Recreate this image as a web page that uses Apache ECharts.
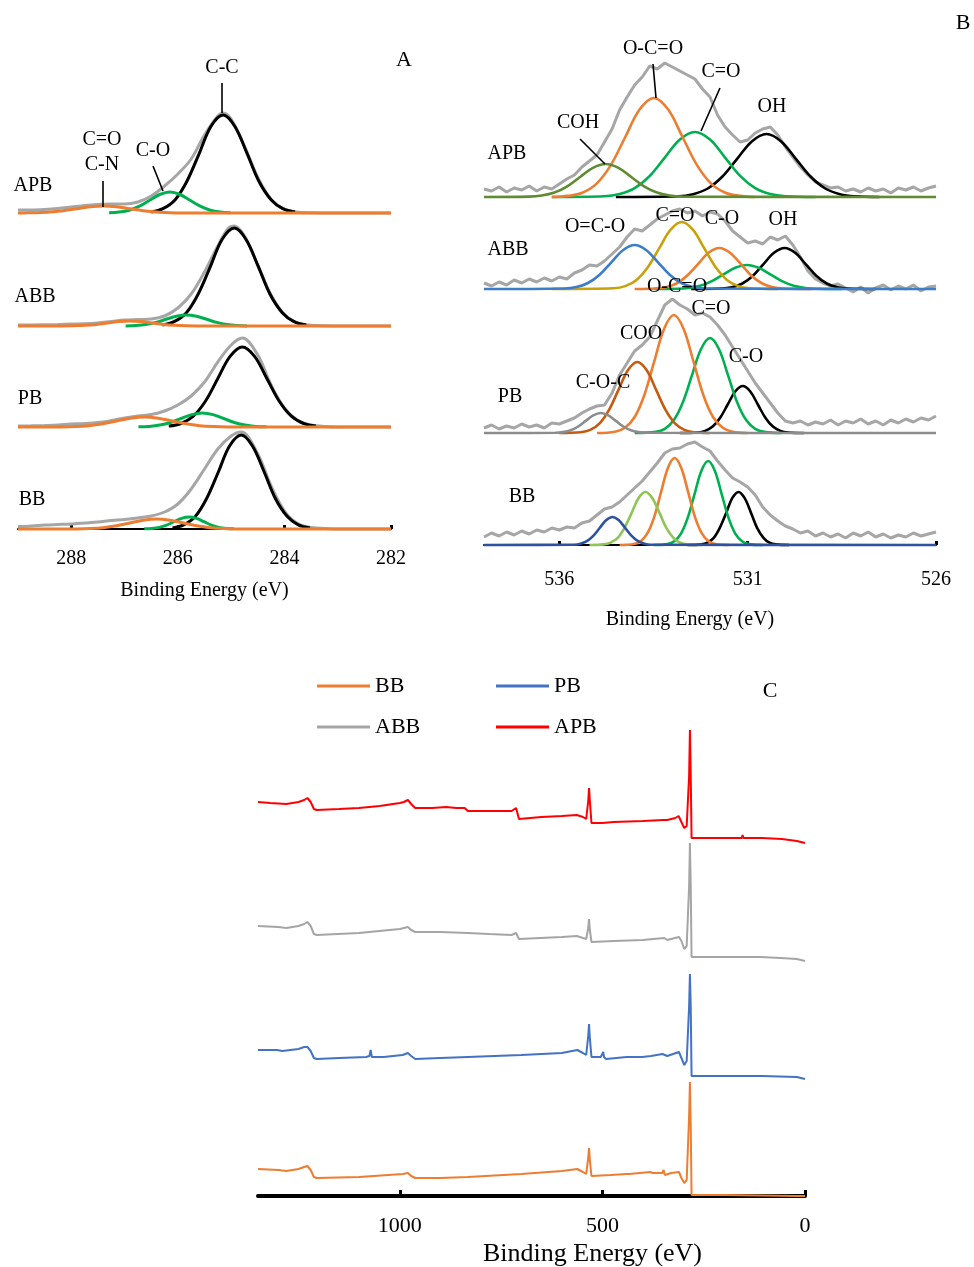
<!DOCTYPE html>
<html>
<head>
<meta charset="utf-8">
<script src="https://cdn.jsdelivr.net/npm/echarts@6/dist/echarts.min.js"></script>
<style>
  html, body { margin: 0; padding: 0; background: #fff; }
  #chart { width: 974px; height: 1267px; }
</style>
</head>
<body>
<div id="chart"></div>
<script>
// ---- panel A : C1s, [binding energy, height above baseline] ----
var aApbGray = [[289,3],[288.75,3],[288.5,3.5],[288.25,4.5],[288,6],[287.75,7.5],[287.5,8.5],[287.25,9],[287,9],[286.75,11],[286.5,17],[286.25,27],[286,39],[285.75,54],[285.5,78],[285.25,97],[285.15,100],[285,94],[284.75,67],[284.5,35.5],[284.25,13.5],[284,3.8],[283.75,0.8],[283.5,0.2],[283,0],[282,0]];
var aApbCC = [[286.5,1.1],[286.28,4.3],[286.05,13.3],[285.83,31.8],[285.6,59.4],[285.38,86.5],[285.15,98],[284.93,86.5],[284.7,59.4],[284.48,31.8],[284.25,13.3],[284.03,4.3],[283.8,1.1]];
var aApbCO = [[287.29,0.2],[287.1,0.9],[286.91,2.8],[286.72,6.8],[286.53,12.7],[286.34,18.5],[286.15,21],[285.96,18.5],[285.77,12.7],[285.58,6.8],[285.39,2.8],[285.2,0.9],[285.01,0.2]];
var aApbCN = [[289,0],[288.9,0.1],[288.65,0.3],[288.4,0.9],[288.15,2.3],[287.9,4.2],[287.65,6.2],[287.4,7],[287.15,6.2],[286.9,4.2],[286.65,2.3],[286.4,0.9],[286.15,0.3],[285.9,0.1],[282,0]];

var aAbbGray = [[289,1],[288.75,1],[288.5,1.2],[288.25,1.5],[288,2],[287.75,2.2],[287.5,3],[287.25,4.5],[287,6],[286.75,6.5],[286.5,7],[286.25,10],[286,18],[285.75,32],[285.5,54],[285.25,80],[285.05,98],[284.94,100],[284.75,90],[284.5,61],[284.25,31],[284,11.5],[283.75,3.2],[283.5,0.8],[283.25,0.2],[283,0],[282,0]];
var aAbbCC = [[286.29,1.1],[286.07,4.3],[285.84,13.3],[285.62,31.8],[285.39,59.4],[285.17,86.5],[284.94,98],[284.72,86.5],[284.49,59.4],[284.27,31.8],[284.04,13.3],[283.82,4.3],[283.59,1.1]];
var aAbbCO = [[286.98,0.12],[286.79,0.5],[286.6,1.5],[286.41,3.6],[286.22,6.7],[286.03,9.7],[285.84,11],[285.65,9.7],[285.46,6.7],[285.27,3.6],[285.08,1.5],[284.89,0.5],[284.7,0.12]];
var aAbbCN = [[289,0],[288.16,0.06],[287.95,0.22],[287.74,0.68],[287.53,1.6],[287.32,3],[287.11,4.4],[286.9,5],[286.69,4.4],[286.48,3],[286.27,1.6],[286.06,0.68],[285.85,0.22],[285.64,0.06],[282,0]];

var aPbGray = [[289,1],[288.75,1.2],[288.5,1.5],[288.25,2],[288,3],[287.75,3.5],[287.5,4.5],[287.25,6.5],[287,9],[286.75,11],[286.5,12.5],[286.25,16],[286,22],[285.75,31],[285.5,45],[285.25,65],[285,82],[284.79,89],[284.5,72],[284.25,42],[284,19],[283.75,6.5],[283.5,2],[283.25,0.5],[283,0],[282,0]];
var aPbCC = [[286.17,0.9],[285.94,3.5],[285.71,10.8],[285.48,26],[285.25,48.5],[285.02,70.6],[284.79,80],[284.56,70.6],[284.33,48.5],[284.1,26],[283.87,10.8],[283.64,3.5],[283.41,0.9]];
var aPbCO = [[286.74,0.16],[286.54,0.6],[286.34,1.9],[286.14,4.5],[285.94,8.5],[285.74,12.4],[285.54,14],[285.34,12.4],[285.14,8.5],[284.94,4.5],[284.74,1.9],[284.54,0.6],[284.34,0.16]];
var aPbCN = [[289,0],[288.19,0.11],[287.93,0.44],[287.67,1.35],[287.41,3.25],[287.15,6.07],[286.89,8.8],[286.63,10],[286.37,8.8],[286.11,6.07],[285.85,3.25],[285.59,1.35],[285.33,0.44],[285.07,0.11],[282,0]];

var aBbGray = [[289,2.5],[288.75,3],[288.5,4],[288.25,4.5],[288,5],[287.75,6],[287.5,7],[287.25,8.5],[287,9.5],[286.75,11],[286.5,13],[286.25,17],[286,25],[285.75,40],[285.5,60],[285.25,80],[285,93],[284.81,97],[284.5,75],[284.25,43],[284,18],[283.75,5.5],[283.5,1.5],[283.25,0.5],[283,0],[282,0]];
var aBbCC = [[286.1,1],[285.89,4.1],[285.67,12.7],[285.46,30.5],[285.24,57],[285.03,83],[284.81,94],[284.6,83],[284.38,57],[284.17,30.5],[283.95,12.7],[283.74,4.1],[283.52,1]];
var aBbCO = [[286.63,0.13],[286.49,0.53],[286.35,1.6],[286.21,3.9],[286.07,7.3],[285.93,10.6],[285.79,12],[285.65,10.6],[285.51,7.3],[285.37,3.9],[285.23,1.6],[285.09,0.53],[284.95,0.13]];
var aBbCN = [[289,0],[287.9,0.11],[287.65,0.44],[287.4,1.35],[287.15,3.25],[286.9,6.07],[286.65,8.8],[286.4,10],[286.15,8.8],[285.9,6.07],[285.65,3.25],[285.4,1.35],[285.15,0.44],[284.9,0.11],[282,0]];

var aTicks = [288, 286, 284, 282];

// ---- panel B : O1s ----
var bEnergy = [538,537.8,537.6,537.4,537.2,537,536.8,536.6,536.4,536.2,536,535.8,535.6,535.4,535.2,535,534.8,534.6,534.4,534.2,534,533.8,533.6,533.4,533.2,533,532.8,532.6,532.4,532.2,532,531.8,531.6,531.4,531.2,531,530.8,530.6,530.4,530.2,530,529.8,529.6,529.4,529.2,529,528.8,528.6,528.4,528.2,528,527.8,527.6,527.4,527.2,527,526.8,526.6,526.4,526.2,526];
var bApbGray = [8,6,10,5,9,7,11,6,10,8, 13,18,22,30,36,42,55,68,87,100, 112,120,131,128,134,130,126,122,118,108, 100,82,70,62,55,57,64,68,70,62, 50,40,30,22,15,12,9,10,6,8, 5,9,6,8,4,9,7,10,6,9, 11];
var bAbbGray = [6,3,7,4,9,6,10,7,11,8, 12,10,16,19,24,23,28,35,42,52, 60,58,64,70,74,78,80,76,78,73, 77,75,68,58,52,46,48,45,52,49, 53,44,32,18,10,6,3,5,1,-3, 2,-4,1,4,-1,3,0,4,-2,2, 3];
var bPbGray = [5,8,4,7,5,9,6,8,5,10, 9,12,15,20,24,27,28,40,58,70, 82,88,96,112,128,134,128,124,118,120, 116,108,98,86,74,62,50,40,30,20, 12,10,12,8,11,9,13,8,12,10, 14,9,12,8,13,10,14,11,15,13, 17];
var bBbGray = [8,12,9,13,10,14,11,15,13,17, 15,18,17,22,24,30,36,38,43,50, 57,64,73,82,92,96,97,101,103,98, 94,84,75,67,63,58,50,38,30,24, 19,16,12,14,9,12,8,11,7,12, 9,13,8,11,7,10,8,12,9,11, 13];

var bApbCOH = [[538,0],[536.81,0.37],[536.47,1.45],[536.13,4.47],[535.79,10.7],[535.45,20],[535.11,29.1],[534.77,33],[534.43,29.1],[534.09,20],[533.75,10.7],[533.41,4.47],[533.07,1.45],[532.73,0.37],[526,0]];
var bApbOCO = [[536.2,0],[535.77,1.1],[535.39,4.3],[535.01,13.4],[534.63,32.1],[534.25,60],[533.87,87.4],[533.49,99],[533.11,87.4],[532.73,60],[532.35,32.1],[531.97,13.4],[531.59,4.3],[531.21,1.1],[530.8,0]];
var bApbCdO = [[536.2,0],[534.8,0.7],[534.4,2.9],[534,8.8],[533.6,21.1],[533.2,39.4],[532.8,57.4],[532.4,65],[532,57.4],[531.6,39.4],[531.2,21.1],[530.8,8.8],[530.4,2.9],[530,0.7],[529.2,0]];
var bApbOH = [[534.5,0],[532.84,0.7],[532.45,2.8],[532.06,8.5],[531.67,20.5],[531.28,38.2],[530.89,55.6],[530.5,63],[530.11,55.6],[529.72,38.2],[529.33,20.5],[528.94,8.5],[528.55,2.8],[528.16,0.7],[527.5,0]];

var bAbbOCO = [[538,0],[535.86,0.5],[535.55,1.9],[535.24,6],[534.93,14.3],[534.62,26.7],[534.31,38.8],[534,44],[533.69,38.8],[533.38,26.7],[533.07,14.3],[532.76,6],[532.45,1.9],[532.14,0.5],[526,0]];
var bAbbCdO = [[536.2,0],[534.55,0.7],[534.25,2.9],[533.95,9.1],[533.65,21.8],[533.35,40.6],[533.05,59.1],[532.75,67],[532.45,59.1],[532.15,40.6],[531.85,21.8],[531.55,9.1],[531.25,2.9],[530.95,0.7],[530.2,0]];
var bAbbCO = [[534,0],[533.46,0.5],[533.18,1.8],[532.89,5.5],[532.61,13.3],[532.32,24.9],[532.04,36.2],[531.75,41],[531.47,36.2],[531.18,24.9],[530.9,13.3],[530.61,5.5],[530.33,1.8],[530.04,0.5],[529.3,0]];
var bAbbX = [[533.5,0],[532.88,0.3],[532.57,1.05],[532.26,3.2],[531.95,7.8],[531.64,14.6],[531.33,21.2],[531.02,24],[530.71,21.2],[530.4,14.6],[530.09,7.8],[529.78,3.2],[529.47,1.05],[529.16,0.3],[528.5,0]];
var bAbbOH = [[532.5,0],[531.7,0.5],[531.42,1.8],[531.14,5.5],[530.86,13.3],[530.58,24.9],[530.3,36.2],[530.02,41],[529.74,36.2],[529.46,24.9],[529.18,13.3],[528.9,5.5],[528.62,1.8],[528.34,0.5],[527.6,0]];

var bPbCOC = [[538,0],[536.1,0.2],[535.9,0.9],[535.7,2.7],[535.5,6.5],[535.3,12.1],[535.1,17.6],[534.9,20],[534.7,17.6],[534.5,12.1],[534.3,6.5],[534.1,2.7],[533.9,0.9],[533.7,0.2],[526,0]];
var bPbCOO = [[536,0],[535.43,0.8],[535.18,3.1],[534.93,9.6],[534.68,23.1],[534.43,43.1],[534.18,62.7],[533.93,71],[533.68,62.7],[533.43,43.1],[533.18,23.1],[532.93,9.6],[532.68,3.1],[532.43,0.8],[532,0]];
var bPbOCO = [[535,0],[534.52,1.3],[534.26,5.2],[534,16],[533.74,38.3],[533.48,71.6],[533.22,104.1],[532.96,118],[532.7,104.1],[532.44,71.6],[532.18,38.3],[531.92,16],[531.66,5.2],[531.4,1.3],[531,0]];
var bPbCdO = [[534,0],[533.44,1.1],[533.2,4.2],[532.96,12.9],[532.72,30.8],[532.48,57.6],[532.24,83.8],[532,95],[531.76,83.8],[531.52,57.6],[531.28,30.8],[531.04,12.9],[530.8,4.2],[530.56,1.1],[530.1,0]];
var bPbCO = [[532.8,0],[532.33,0.5],[532.13,2.1],[531.93,6.4],[531.73,15.3],[531.53,28.5],[531.33,41.5],[531.13,47],[530.93,41.5],[530.73,28.5],[530.53,15.3],[530.33,6.4],[530.13,2.1],[529.93,0.5],[529.5,0]];

var bBbP1 = [[538,0],[535.61,0.3],[535.44,1.2],[535.27,3.8],[535.1,9.1],[534.93,17],[534.76,24.7],[534.59,28],[534.42,24.7],[534.25,17],[534.08,9.1],[533.91,3.8],[533.74,1.2],[533.57,0.3],[526,0]];
var bBbP2 = [[535.2,0],[534.82,0.6],[534.64,2.3],[534.45,7.2],[534.27,17.2],[534.08,32.1],[533.9,46.8],[533.71,53],[533.53,46.8],[533.34,32.1],[533.16,17.2],[532.97,7.2],[532.79,2.3],[532.6,0.6],[532.2,0]];
var bBbP3 = [[534.4,0],[534.02,1],[533.84,3.8],[533.66,11.8],[533.48,28.2],[533.3,52.8],[533.12,76.8],[532.94,87],[532.76,76.8],[532.58,52.8],[532.4,28.2],[532.22,11.8],[532.04,3.8],[531.86,1],[531.5,0]];
var bBbP4 = [[533.5,0],[533.13,0.9],[532.95,3.7],[532.77,11.4],[532.59,27.3],[532.41,50.9],[532.23,74.1],[532.05,84],[531.87,74.1],[531.69,50.9],[531.51,27.3],[531.33,11.4],[531.15,3.7],[530.97,0.9],[530.6,0]];
var bBbP5 = [[532.6,0],[532.23,0.6],[532.07,2.3],[531.9,7.2],[531.74,17.2],[531.57,32.1],[531.41,46.8],[531.24,53],[531.08,46.8],[530.91,32.1],[530.75,17.2],[530.58,7.2],[530.42,2.3],[530.25,0.6],[529.9,0]];

var bTicks = [536, 531, 526];

// ---- panel C : survey spectra (stacked) ----
var cAPB = [[1350,394],[1320,393],[1280,392],[1250,394],[1236,396],[1228,398],[1220,394],[1212,387],[1205,386],[1150,387],[1101,388],[1050,390],[1000,393],[990,394],[980,396],[972,392],[962,388],[920,388],[886,389],[860,388],[840,388],[832,385],[780,385],[724,385],[713,388],[709,387],[706,377],[650,379],[600,380],[563,381],[548,379],[540,377],[535,395],[533,408],[531,395],[527,373],[500,373],[472,374],[400,375],[350,376],[346,378],[340,376],[320,378],[312,380],[305,374],[298,368],[292,370],[286,420],[284,466],[282,420],[280,358],[250,358],[200,358],[156,358],[154,361],[152,358],[106,358],[104,360],[102,358],[57,357],[55,359],[53,357],[20,355],[0,353]];
var cABB = [[1350,270],[1300,269],[1280,268],[1250,270],[1236,272],[1228,274],[1220,270],[1212,262],[1205,261],[1101,263],[1000,267],[990,268],[980,269],[972,266],[962,264],[900,264],[832,263],[780,262],[724,261],[713,263],[709,262],[706,257],[600,259],[563,260],[548,258],[540,257],[535,268],[533,277],[531,266],[527,254],[472,255],[400,256],[347,258],[340,256],[311,259],[305,255],[298,247],[292,250],[286,310],[284,353],[282,310],[280,239],[200,239],[111,239],[108,240],[60,238],[20,237],[0,235]];
var cPB = [[1350,146],[1310,146],[1307,148],[1303,146],[1290,145],[1250,147],[1236,149],[1228,149],[1220,145],[1212,138],[1205,137],[1150,138],[1083,139],[1075,140],[1072,146],[1069,139],[1040,139],[993,141],[980,143],[972,140],[962,137],[900,138],[832,139],[700,141],[600,143],[562,146],[548,143],[540,141],[535,160],[533,172],[531,158],[527,139],[504,139],[500,140],[498,144],[496,139],[491,137],[440,139],[402,139],[380,140],[352,142],[340,140],[311,144],[305,138],[298,131],[292,135],[286,190],[284,222],[282,190],[280,120],[206,120],[204,122],[202,120],[156,120],[154,122],[152,120],[106,120],[104,122],[102,120],[20,119],[0,117]];
var cBB = [[1350,27],[1300,26],[1280,25],[1250,27],[1236,29],[1228,30],[1220,26],[1212,19],[1205,18],[1100,19],[993,22],[980,23],[972,20],[962,18],[900,18],[832,19],[700,22],[600,25],[562,27],[548,24],[540,22],[535,38],[533,48],[531,36],[527,20],[480,21],[440,22],[437,23],[434,22],[382,24],[379,25],[376,23],[352,23],[349,26],[346,21],[330,23],[311,24],[305,18],[298,13],[292,16],[286,80],[284,114],[282,70],[280,1],[200,1],[100,0.5],[20,0],[0,0]];
var cTicks = [1000, 500, 0];

var FONT = "'Liberation Serif','Times New Roman',serif";

function pair(xs, ys) {
  return xs.map(function (x, i) { return [x, ys[i]]; });
}

function curve(data, color, gi, width, z, smooth) {
  return {
    type: 'line', data: data, xAxisIndex: gi, yAxisIndex: gi,
    symbol: 'none', smooth: smooth, silent: true, z: z,
    lineStyle: { color: color, width: width }, itemStyle: { color: color }
  };
}

function grid(left, width, top, height) {
  return { left: left, width: width, top: top, height: height, outerBoundsMode: 'none', containLabel: false };
}

function hidX(gi, min, max) {
  return { gridIndex: gi, type: 'value', min: min, max: max, inverse: true, show: false };
}
function hidY(gi, min, max) {
  return { gridIndex: gi, type: 'value', min: min, max: max, show: false };
}
function showX(gi, min, max, ticks, fs, lw, margin, nameGap, namePad, nameFs, tickLen) {
  return {
    gridIndex: gi, type: 'value', min: min, max: max, inverse: true,
    axisLine: { show: true, onZero: true, lineStyle: { color: '#000', width: lw } },
    axisTick: { show: true, inside: true, length: tickLen, customValues: ticks, lineStyle: { color: '#000', width: 3 } },
    axisLabel: { customValues: ticks, fontFamily: FONT, fontSize: fs, color: '#000', margin: margin,
      formatter: function (v) { return String(v); } },
    splitLine: { show: false },
    name: 'Binding Energy (eV)', nameLocation: 'middle', nameGap: nameGap,
    nameTextStyle: { fontFamily: FONT, fontSize: nameFs, color: '#000', padding: namePad }
  };
}

function txt(t, x, y, size) {
  return { type: 'text', x: x, y: y, silent: true, z: 10,
    style: { text: t, font: size + 'px ' + FONT, fill: '#000', textAlign: 'center', textVerticalAlign: 'middle', align: 'center', verticalAlign: 'middle' } };
}
function seg(x1, y1, x2, y2) {
  return { type: 'line', silent: true, z: 10, shape: { x1: x1, y1: y1, x2: x2, y2: y2 }, style: { stroke: '#000', lineWidth: 1.6 } };
}

function legendItem(name, left, top) {
  return { data: [name], left: left, top: top, padding: 0, icon: 'rect', itemWidth: 53, itemHeight: 3,
    selectedMode: false, textStyle: { fontFamily: FONT, fontSize: 22, color: '#000' } };
}

var BLACK = '#000000', GREEN = '#00b050', ORANGE = '#ed7d31', GRAY = '#a6a6a6';

var myChart = echarts.init(document.getElementById('chart'), null, { renderer: 'canvas' });

var option = {
  animation: false,
  backgroundColor: '#fff',
  grid: [
    grid(18, 373, 108, 110),   // A APB
    grid(18, 373, 221, 110),   // A ABB
    grid(18, 373, 322, 110),   // A PB
    grid(18, 373, 424, 110),   // A BB
    grid(484, 452, 57, 150),   // B APB
    grid(484, 452, 199, 100),  // B ABB
    grid(484, 452, 293, 150),  // B PB
    grid(484, 452, 435, 120),  // B BB
    grid(258, 547, 726, 470)   // C
  ],
  xAxis: [
    hidX(0, 282, 289), hidX(1, 282, 289), hidX(2, 282, 289),
    showX(3, 282, 289, aTicks, 20, 2, 15, 47, [0, 0, 0, 0], 20, 4),
    hidX(4, 526, 538), hidX(5, 526, 538), hidX(6, 526, 538),
    showX(7, 526, 538, bTicks, 20, 2, 15, 55, [0, 40, 0, 0], 20, 4),
    showX(8, 0, 1350, cTicks, 22, 4, 19, 45, [0, 0, 0, 122], 26, 6)
  ],
  yAxis: [
    hidY(0, -5, 105), hidY(1, -5, 105), hidY(2, -5, 105), hidY(3, -5, 105),
    hidY(4, -10, 140), hidY(5, -10, 90), hidY(6, -10, 140), hidY(7, -10, 110),
    hidY(8, 0, 470)
  ],
  legend: [
    legendItem('BB', 317, 675),
    legendItem('PB', 496, 675),
    legendItem('ABB', 317, 716),
    legendItem('APB', 496, 716)
  ],
  series: [
    // A
    curve(aApbGray, GRAY, 0, 3, 1, 0.35), curve(aApbCC, BLACK, 0, 3, 2, 0.35), curve(aApbCO, GREEN, 0, 3, 3, 0.35), curve(aApbCN, ORANGE, 0, 3, 4, 0.35),
    curve(aAbbGray, GRAY, 1, 3, 1, 0.35), curve(aAbbCC, BLACK, 1, 3, 2, 0.35), curve(aAbbCO, GREEN, 1, 3, 3, 0.35), curve(aAbbCN, ORANGE, 1, 3, 4, 0.35),
    curve(aPbGray, GRAY, 2, 3, 1, 0.35), curve(aPbCC, BLACK, 2, 3, 2, 0.35), curve(aPbCO, GREEN, 2, 3, 3, 0.35), curve(aPbCN, ORANGE, 2, 3, 4, 0.35),
    curve(aBbGray, GRAY, 3, 3, 1, 0.35), curve(aBbCC, BLACK, 3, 3, 2, 0.35), curve(aBbCO, GREEN, 3, 3, 3, 0.35), curve(aBbCN, ORANGE, 3, 3, 4, 0.35),
    // B APB
    curve(pair(bEnergy, bApbGray), GRAY, 4, 3, 1, false),
    curve(bApbOH, BLACK, 4, 2.6, 2, 0.35), curve(bApbCdO, GREEN, 4, 2.6, 3, 0.35),
    curve(bApbOCO, ORANGE, 4, 2.6, 4, 0.35), curve(bApbCOH, '#5f8b32', 4, 2.6, 5, 0.35),
    // B ABB
    curve(pair(bEnergy, bAbbGray), GRAY, 5, 3, 1, false),
    curve(bAbbOH, BLACK, 5, 2.6, 2, 0.35), curve(bAbbX, GREEN, 5, 2.6, 3, 0.35),
    curve(bAbbCO, ORANGE, 5, 2.6, 4, 0.35), curve(bAbbCdO, '#c9a10a', 5, 2.6, 5, 0.35),
    curve(bAbbOCO, '#3b7dc8', 5, 2.6, 6, 0.35),
    // B PB
    curve(pair(bEnergy, bPbGray), GRAY, 6, 3, 1, false),
    curve(bPbCO, BLACK, 6, 2.6, 2, 0.35), curve(bPbCdO, GREEN, 6, 2.6, 3, 0.35),
    curve(bPbOCO, ORANGE, 6, 2.6, 4, 0.35), curve(bPbCOO, '#c55a11', 6, 2.6, 5, 0.35),
    curve(bPbCOC, '#8c8c8c', 6, 2.6, 6, 0.35),
    // B BB
    curve(pair(bEnergy, bBbGray), GRAY, 7, 3, 1, false),
    curve(bBbP5, BLACK, 7, 2.6, 2, 0.35), curve(bBbP4, GREEN, 7, 2.6, 3, 0.35),
    curve(bBbP3, ORANGE, 7, 2.6, 4, 0.35), curve(bBbP2, '#8fc457', 7, 2.6, 5, 0.35),
    curve(bBbP1, '#2f52a0', 7, 2.6, 6, 0.35),
    // C
    Object.assign(curve(cBB, ORANGE, 8, 2, 2, false), { name: 'BB' }),
    Object.assign(curve(cPB, '#4472c4', 8, 2, 2, false), { name: 'PB' }),
    Object.assign(curve(cABB, '#a5a5a5', 8, 2, 2, false), { name: 'ABB' }),
    Object.assign(curve(cAPB, '#ff0000', 8, 2, 2, false), { name: 'APB' })
  ],
  graphic: [
    // panel A
    txt('A', 404, 60, 22),
    txt('C-C', 222, 68, 20), seg(222, 83, 222, 113),
    txt('C-O', 153, 151, 20), seg(153, 166, 163, 191),
    txt('C=O', 102, 140, 20), txt('C-N', 102, 165, 20), seg(103, 181, 103, 207),
    txt('APB', 33, 186, 20), txt('ABB', 35, 297, 20), txt('PB', 30, 399, 20), txt('BB', 32, 500, 20),
    // panel B
    txt('B', 963, 23, 22),
    txt('APB', 507, 154, 20), txt('ABB', 508, 250, 20), txt('PB', 510, 397, 20), txt('BB', 522, 497, 20),
    txt('O-C=O', 653, 49, 20), seg(653, 64, 656, 98),
    txt('C=O', 721, 72, 20), seg(720, 88, 701, 131),
    txt('OH', 772, 107, 20),
    txt('COH', 578, 123, 20), seg(580, 139, 605, 164),
    txt('O=C-O', 595, 227, 20), txt('C=O', 675, 216, 20), txt('C-O', 722, 219, 20), txt('OH', 783, 220, 20),
    txt('O-C=O', 677, 287, 20), txt('C=O', 711, 309, 20), txt('COO', 641, 334, 20),
    txt('C-O-C', 603, 383, 20), txt('C-O', 746, 357, 20),
    // panel C
    txt('C', 770, 691, 22)
  ]
};

myChart.setOption(option);
</script>
</body>
</html>
